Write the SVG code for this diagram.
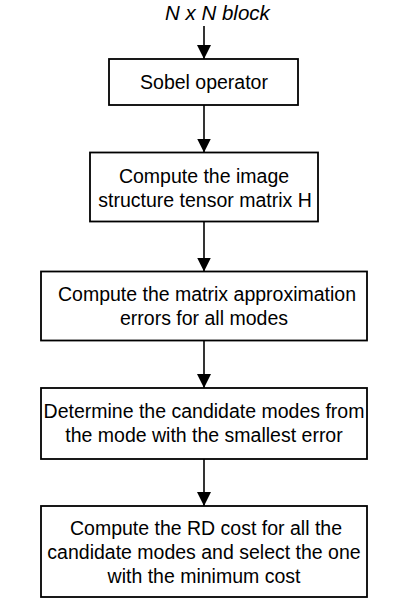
<svg xmlns="http://www.w3.org/2000/svg" width="407" height="602" viewBox="0 0 407 602">
<defs>
<style>
.box{fill:#fff;stroke:#000;stroke-width:1.8}
.t{font-family:"Liberation Sans",Arial,sans-serif;font-size:19.5px;fill:#000;text-anchor:middle}
.ti{font-family:"Liberation Sans",Arial,sans-serif;font-size:20.5px;font-style:italic;fill:#000}
.c{stroke:#000;stroke-width:1.6;fill:none;marker-end:url(#ah)}
</style>
<marker id="ah" markerUnits="userSpaceOnUse" markerWidth="14" markerHeight="16" refX="14" refY="7" orient="auto">
<path d="M0,0 L14,7 L0,14 Z" fill="#000"/>
</marker>
</defs>
<rect width="407" height="602" fill="#fff"/>
<text class="ti" x="165" y="20">N x N block</text>
<g id="connectors">
<line class="c" x1="204" y1="26" x2="204" y2="59"/>
<line class="c" x1="204" y1="105" x2="204" y2="152.5"/>
<line class="c" x1="204" y1="221.5" x2="204" y2="271.5"/>
<line class="c" x1="204" y1="340.5" x2="204" y2="388"/>
<line class="c" x1="204" y1="459" x2="204" y2="506"/>
</g>
<g id="sobel">
<rect class="box" x="109" y="59" width="189" height="46"/>
<text class="t" x="204" y="88.5">Sobel operator</text>
</g>
<g id="tensor">
<rect class="box" x="90" y="152.5" width="228" height="69"/>
<text class="t" x="204" y="182.5">Compute the image</text>
<text class="t" x="205" y="206.5">structure tensor matrix H</text>
</g>
<g id="errors">
<rect class="box" x="41" y="271.5" width="326" height="69"/>
<text class="t" x="207" y="301">Compute the matrix approximation</text>
<text class="t" x="204" y="325">errors for all modes</text>
</g>
<g id="candidates">
<rect class="box" x="41" y="388" width="326" height="71"/>
<text class="t" x="204" y="418">Determine the candidate modes from</text>
<text class="t" x="204" y="442">the mode with the smallest error</text>
</g>
<g id="rdcost">
<rect class="box" x="41" y="506" width="326" height="91"/>
<text class="t" x="206" y="535">Compute the RD cost for all the</text>
<text class="t" x="204" y="559">candidate modes and select the one</text>
<text class="t" x="204" y="583">with the minimum cost</text>
</g>
</svg>
